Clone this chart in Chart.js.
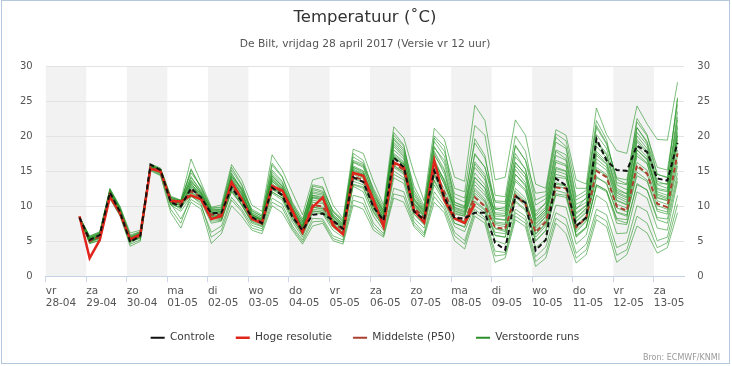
<!DOCTYPE html>
<html>
<head>
<meta charset="utf-8">
<title>Temperatuur De Bilt</title>
<script src="https://cdn.jsdelivr.net/npm/chart.js@4.4.1/dist/chart.umd.min.js"></script>
<style>
  html, body { margin: 0; padding: 0; background: #fff; }
  #wrap { position: relative; width: 732px; height: 366px; }
  #frame { position: absolute; left: 1px; top: 0; width: 729px; height: 364px; box-sizing: border-box; border: 1px solid #b4c8dd; pointer-events: none; }
</style>
</head>
<body>
<div id="wrap">
  <canvas id="plumeChart" width="732" height="366"></canvas>
  <div id="frame"></div>
</div>
<script>
// x-axis tick labels, one per day (28-04 00:00 local is hour 0)
const dayNames = ['vr', 'za', 'zo', 'ma', 'di', 'wo', 'do', 'vr', 'za', 'zo', 'ma', 'di', 'wo', 'do', 'vr', 'za'];
const dayDates = ['28-04', '29-04', '30-04', '01-05', '02-05', '03-05', '04-05', '05-05', '06-05', '07-05', '08-05', '09-05', '10-05', '11-05', '12-05', '13-05'];

// forecast times: every 6 hours from 28-04 20:00 (run vr 12 uur + 6h)
const hours = Array.from({ length: 60 }, (_, i) => 20 + 6 * i);

// values per day: 02h, 08h, 14h, 20h
const controle = [8.4, 5.2, 5.9, 12.0, 9.2, 4.9, 5.8, 16.0, 15.2, 10.6, 10.0, 12.6, 11.3, 9.0, 9.1, 12.7, 10.7, 8.5, 7.6, 12.7, 11.6, 8.5, 6.6, 8.8, 9.0, 8.0, 6.8, 14.2, 13.5, 9.9, 8.0, 17.0, 15.6, 9.3, 8.1, 15.1, 11.3, 8.3, 8.3, 9.1, 9.1, 4.8, 3.8, 11.5, 10.5, 3.7, 5.2, 14.0, 13.0, 7.2, 8.4, 19.7, 16.6, 15.2, 15.1, 18.7, 17.8, 14.0, 13.7, 19.1];
const hogeResolutie = [8.6, 2.6, 5.2, 11.4, 9.0, 5.3, 6.0, 15.4, 15.0, 10.8, 10.7, 11.6, 11.0, 8.2, 8.6, 13.5, 11.1, 8.2, 7.6, 12.9, 12.3, 9.4, 6.3, 9.9, 11.3, 7.3, 6.0, 14.8, 14.4, 10.9, 7.1, 16.3, 15.6, 9.4, 7.7, 16.6, 10.9, 8.3, 7.6, 10.4];
const middelste = [8.4, 5.0, 5.7, 11.8, 9.0, 5.2, 5.8, 15.7, 15.0, 10.7, 10.3, 12.2, 11.3, 8.8, 8.8, 13.0, 11.0, 8.4, 7.8, 13.0, 12.0, 9.0, 6.6, 10.2, 10.0, 7.8, 6.6, 14.3, 13.8, 10.3, 7.8, 16.2, 15.2, 9.8, 8.3, 15.0, 12.0, 8.6, 8.0, 11.3, 10.0, 7.0, 6.8, 11.6, 10.3, 6.3, 7.8, 12.7, 12.6, 7.0, 8.4, 15.1, 14.2, 10.0, 9.4, 15.9, 14.7, 10.4, 9.9, 17.6];

// perturbed ensemble members (a readable subset of the plume)
const run01 = [8.5, 5.8, 6.3, 12.6, 10.0, 6.2, 6.6, 16.1, 15.5, 11.5, 10.9, 16.8, 13.4, 9.9, 10.2, 16.0, 13.8, 10.2, 9.3, 17.4, 15.2, 12.0, 8.8, 13.8, 14.2, 10.2, 8.3, 18.2, 17.6, 13.6, 10.2, 21.4, 19.8, 14.8, 10.8, 21.2, 19.6, 14.2, 13.6, 24.5, 22.3, 13.8, 14.2, 22.4, 20.2, 13.2, 12.6, 21.0, 20.2, 13.8, 13.2, 24.1, 20.3, 18.0, 17.6, 24.4, 21.8, 19.6, 19.5, 27.8];
const run02 = [8.3, 4.7, 5.1, 11.1, 8.6, 4.3, 5.0, 15.1, 14.4, 9.1, 6.9, 10.6, 9.6, 4.7, 6.1, 10.1, 8.6, 6.6, 6.1, 10.1, 9.1, 6.6, 4.6, 7.2, 7.6, 5.1, 4.6, 10.2, 9.6, 6.6, 5.6, 11.2, 10.6, 7.1, 5.6, 10.6, 9.1, 5.1, 3.9, 8.6, 7.6, 2.0, 2.6, 8.1, 7.1, 1.4, 2.6, 7.6, 6.1, 1.9, 3.1, 8.1, 7.1, 2.0, 3.1, 7.2, 6.2, 3.3, 4.1, 9.1];
const run03 = [8.4, 5.4, 6.1, 12.3, 9.6, 5.6, 6.0, 15.9, 15.2, 11.2, 10.6, 14.3, 12.1, 9.6, 9.3, 14.4, 12.4, 9.3, 8.6, 15.2, 13.6, 10.2, 7.9, 12.9, 12.6, 9.3, 7.9, 16.4, 15.8, 11.6, 9.4, 19.2, 17.6, 11.9, 9.6, 18.4, 16.6, 11.3, 10.6, 19.7, 17.3, 9.6, 9.9, 17.6, 15.3, 8.8, 10.6, 17.9, 16.8, 9.6, 11.3, 19.4, 17.6, 12.3, 11.8, 20.6, 18.8, 13.2, 13.3, 22.8];
const run04 = [8.4, 4.9, 5.5, 11.6, 8.9, 4.8, 5.5, 15.4, 14.7, 10.2, 9.3, 11.4, 10.6, 7.6, 7.9, 12.2, 10.2, 7.6, 7.1, 11.9, 10.9, 7.8, 5.6, 9.1, 8.9, 6.6, 5.6, 12.9, 12.1, 8.6, 6.6, 14.1, 13.3, 8.3, 6.9, 13.1, 10.6, 7.1, 6.4, 10.1, 9.1, 5.1, 4.6, 9.6, 8.6, 4.1, 5.3, 10.2, 9.9, 4.6, 5.9, 11.6, 10.6, 6.1, 6.2, 12.1, 11.2, 6.9, 6.6, 13.6];
const run05 = [8.4, 5.2, 5.8, 12.1, 9.3, 5.0, 5.7, 15.8, 15.1, 10.6, 10.1, 13.1, 11.8, 9.2, 9.0, 13.6, 11.5, 8.9, 8.0, 14.1, 12.7, 9.5, 6.9, 11.2, 10.9, 8.2, 7.0, 15.2, 14.6, 10.9, 8.3, 17.6, 16.4, 10.6, 8.9, 16.8, 13.6, 9.6, 9.1, 14.2, 12.6, 8.3, 8.1, 14.6, 12.9, 7.6, 9.1, 15.6, 15.1, 8.4, 9.8, 17.6, 16.1, 11.6, 10.9, 18.6, 17.1, 12.1, 11.6, 20.6];
const run06 = [8.5, 5.0, 5.6, 11.9, 9.2, 5.3, 6.0, 15.6, 14.9, 10.9, 10.4, 12.6, 11.4, 8.4, 8.6, 12.6, 10.6, 8.1, 7.6, 12.4, 11.6, 8.6, 6.2, 9.6, 9.4, 7.4, 6.3, 13.6, 13.1, 9.8, 7.3, 15.6, 14.6, 9.4, 7.9, 14.3, 11.4, 8.1, 7.6, 12.3, 10.8, 6.8, 6.4, 12.6, 11.2, 6.0, 7.4, 13.4, 13.0, 6.6, 8.0, 14.3, 13.2, 9.1, 8.6, 14.9, 13.8, 9.6, 9.2, 16.4];
const run07 = [8.3, 5.5, 6.0, 12.4, 9.8, 5.7, 6.3, 15.9, 15.3, 10.9, 10.5, 15.4, 12.6, 9.4, 9.6, 15.2, 13.0, 9.1, 8.4, 14.6, 13.1, 9.8, 7.6, 12.1, 11.8, 8.8, 7.6, 17.1, 16.2, 12.1, 9.1, 20.6, 18.8, 11.2, 9.4, 19.8, 17.9, 12.6, 12.1, 21.6, 20.2, 11.6, 11.4, 20.1, 17.9, 10.9, 11.6, 19.9, 18.6, 11.4, 12.3, 21.3, 18.9, 14.1, 13.8, 22.1, 20.1, 15.6, 15.2, 24.6];
const run08 = [8.4, 4.8, 5.4, 11.5, 8.8, 5.1, 5.4, 15.3, 14.6, 10.4, 8.2, 11.0, 10.1, 6.3, 7.2, 11.3, 9.6, 7.3, 6.8, 11.2, 10.3, 7.2, 5.2, 8.3, 8.2, 5.8, 5.2, 11.6, 11.2, 7.6, 6.1, 12.6, 12.1, 7.8, 6.2, 12.1, 10.1, 6.3, 5.1, 9.6, 8.4, 3.6, 3.4, 9.1, 8.1, 2.8, 4.2, 9.1, 8.3, 3.3, 4.6, 9.6, 8.8, 4.1, 4.8, 10.1, 9.3, 5.1, 5.6, 11.6];
const run09 = [8.5, 5.6, 6.2, 12.0, 9.4, 5.5, 6.1, 15.6, 15.0, 11.3, 10.8, 13.8, 12.0, 9.0, 8.4, 13.9, 11.9, 8.7, 8.1, 13.6, 12.4, 9.4, 7.2, 11.6, 11.2, 8.4, 7.1, 14.9, 14.2, 10.6, 8.4, 16.9, 16.1, 10.3, 8.6, 16.1, 13.2, 9.9, 9.4, 15.6, 13.8, 7.8, 7.6, 13.6, 12.2, 7.1, 8.6, 14.2, 14.0, 7.8, 9.1, 16.3, 15.2, 10.8, 10.2, 17.2, 16.1, 11.2, 10.8, 19.2];
const run10 = [8.3, 5.1, 5.9, 12.2, 9.1, 5.4, 5.9, 15.7, 15.1, 10.8, 10.2, 12.8, 11.6, 8.9, 9.1, 13.3, 11.2, 8.6, 7.9, 13.3, 12.1, 9.1, 6.7, 10.6, 10.4, 7.9, 6.7, 14.6, 14.0, 10.2, 7.9, 16.4, 15.4, 9.9, 8.4, 15.4, 12.4, 8.9, 8.6, 12.6, 11.1, 7.4, 7.1, 12.2, 10.8, 6.6, 8.1, 13.2, 12.9, 7.3, 8.7, 15.6, 14.6, 10.3, 9.8, 16.3, 15.2, 10.8, 10.3, 18.1];
const run11 = [8.4, 4.9, 5.6, 11.8, 9.0, 5.2, 5.7, 15.6, 15.0, 10.5, 9.6, 13.4, 11.2, 8.6, 8.2, 14.8, 12.3, 8.3, 7.4, 12.9, 11.4, 8.8, 6.0, 9.9, 9.6, 7.6, 6.1, 15.6, 14.8, 9.6, 7.2, 18.1, 16.8, 10.9, 9.2, 17.3, 15.1, 9.3, 8.8, 13.1, 11.6, 9.6, 9.3, 16.3, 14.6, 8.2, 9.6, 16.3, 15.8, 5.6, 6.9, 13.1, 12.3, 8.3, 8.1, 19.3, 17.6, 11.6, 11.1, 21.3];
const run12 = [8.4, 5.3, 5.9, 11.6, 9.1, 5.1, 5.9, 15.5, 14.9, 10.9, 10.4, 12.1, 11.1, 8.1, 8.9, 12.9, 10.9, 8.4, 7.7, 12.6, 11.8, 9.2, 6.5, 9.9, 9.7, 8.0, 6.8, 13.9, 13.5, 10.1, 7.6, 15.8, 14.8, 9.6, 8.1, 14.6, 11.6, 8.3, 7.8, 10.8, 9.6, 6.3, 6.1, 10.8, 9.6, 5.6, 7.2, 11.8, 11.6, 6.3, 7.9, 14.1, 13.4, 9.2, 8.8, 14.4, 13.6, 9.3, 8.9, 15.8];
const run13 = [8.4, 5.7, 6.4, 12.5, 9.9, 5.9, 6.4, 16.0, 15.4, 11.3, 10.9, 14.8, 12.9, 9.8, 9.9, 14.3, 12.6, 9.6, 8.8, 16.2, 14.3, 10.6, 8.2, 12.6, 12.2, 9.4, 8.1, 16.6, 16.0, 12.6, 9.8, 19.8, 18.2, 12.9, 10.1, 20.1, 18.6, 10.6, 9.9, 17.4, 15.6, 10.8, 10.7, 18.8, 16.6, 11.9, 12.1, 20.4, 19.4, 12.6, 12.6, 22.3, 19.6, 13.4, 13.1, 21.3, 19.3, 14.6, 14.2, 25.4];
const run14 = [8.3, 4.7, 5.2, 11.3, 8.7, 4.6, 5.2, 15.2, 14.5, 9.6, 7.6, 11.6, 10.3, 5.6, 6.6, 10.9, 9.3, 6.9, 6.5, 10.6, 9.8, 6.9, 4.9, 7.8, 7.9, 5.4, 4.9, 10.9, 10.4, 7.1, 5.8, 11.8, 11.4, 7.4, 5.9, 11.4, 9.6, 5.8, 4.6, 9.1, 8.1, 2.9, 3.1, 8.6, 7.6, 2.1, 3.3, 8.3, 7.3, 2.6, 3.8, 8.8, 7.9, 3.0, 3.8, 8.6, 7.6, 4.1, 4.8, 10.3];
const run15 = [8.5, 5.4, 5.7, 12.2, 9.5, 5.5, 6.2, 15.8, 15.2, 11.0, 10.7, 13.6, 11.9, 9.3, 9.4, 13.1, 11.0, 8.8, 8.2, 13.8, 12.5, 9.6, 7.0, 11.4, 11.1, 8.6, 7.3, 15.4, 14.6, 11.1, 8.7, 17.2, 16.0, 10.4, 8.8, 16.2, 13.9, 10.2, 9.8, 16.4, 14.6, 8.6, 8.6, 15.3, 13.4, 7.9, 9.3, 15.1, 14.6, 8.9, 10.1, 17.9, 16.4, 11.9, 11.2, 18.1, 16.6, 12.4, 12.1, 20.1];
const run16 = [8.4, 5.0, 5.6, 11.7, 9.1, 5.0, 5.6, 15.6, 14.8, 10.3, 9.9, 11.9, 11.0, 8.3, 8.1, 12.4, 10.3, 7.9, 7.4, 12.1, 11.2, 8.3, 6.0, 9.3, 9.2, 7.2, 6.2, 13.2, 12.8, 9.1, 7.1, 15.1, 14.1, 8.9, 7.4, 13.8, 11.1, 7.6, 7.1, 11.6, 10.1, 5.8, 5.6, 11.3, 10.1, 5.1, 6.6, 12.3, 11.9, 5.7, 7.1, 12.9, 12.1, 7.6, 7.4, 13.1, 12.4, 8.4, 8.2, 14.8];
const run17 = [8.4, 5.3, 6.0, 12.0, 9.4, 5.4, 6.1, 15.9, 15.1, 11.0, 10.6, 13.2, 11.7, 9.1, 9.2, 14.0, 11.8, 8.6, 8.0, 14.4, 12.9, 9.7, 7.1, 11.6, 11.4, 8.5, 7.2, 15.8, 15.1, 11.3, 8.6, 18.6, 17.1, 10.9, 9.0, 17.6, 14.6, 9.8, 9.2, 14.8, 13.1, 8.9, 8.7, 15.8, 14.1, 8.1, 9.6, 16.6, 16.0, 9.1, 10.2, 18.6, 17.0, 12.1, 11.4, 19.6, 17.9, 12.6, 12.3, 21.6];
const run18 = [8.4, 5.1, 5.8, 11.9, 9.2, 5.3, 5.9, 15.7, 15.0, 10.7, 10.2, 12.4, 11.4, 8.7, 8.7, 13.4, 11.3, 8.3, 7.7, 13.6, 12.3, 9.2, 6.7, 10.9, 10.6, 7.9, 6.8, 14.8, 14.2, 10.6, 8.1, 17.1, 15.9, 10.1, 8.5, 16.3, 13.1, 9.1, 8.6, 13.6, 12.0, 7.6, 7.4, 13.9, 12.4, 6.9, 8.5, 14.6, 14.2, 7.9, 9.3, 16.8, 15.6, 10.9, 10.3, 17.6, 16.2, 11.3, 10.9, 19.6];
const run19 = [8.5, 5.5, 6.1, 12.2, 9.6, 5.6, 6.2, 15.9, 15.3, 11.1, 10.7, 14.1, 12.3, 9.5, 9.6, 14.6, 12.6, 9.0, 8.3, 14.9, 13.4, 10.0, 7.4, 12.4, 12.0, 8.9, 7.5, 16.3, 15.6, 11.8, 9.0, 19.6, 17.9, 11.6, 9.4, 18.6, 16.1, 10.6, 10.1, 17.6, 15.6, 9.8, 9.6, 17.1, 15.4, 9.3, 10.4, 18.1, 17.4, 10.3, 11.1, 20.3, 18.3, 13.1, 12.4, 21.3, 19.1, 13.6, 13.1, 23.6];
const run20 = [8.4, 5.0, 5.7, 11.7, 9.0, 5.1, 5.8, 15.6, 14.9, 10.6, 10.1, 12.0, 11.1, 8.6, 8.5, 12.8, 10.8, 8.2, 7.6, 12.8, 11.8, 8.9, 6.4, 10.1, 9.9, 7.6, 6.5, 14.1, 13.6, 10.1, 7.7, 15.9, 14.9, 9.6, 8.1, 14.8, 11.9, 8.4, 7.9, 11.9, 10.6, 6.9, 6.6, 11.9, 10.6, 6.1, 7.6, 12.9, 12.6, 6.9, 8.3, 15.3, 14.4, 9.8, 9.2, 15.6, 14.6, 10.1, 9.6, 17.3];
const run21 = [8.4, 4.9, 5.5, 11.6, 8.9, 5.0, 5.6, 15.5, 14.8, 10.4, 9.8, 11.6, 10.8, 7.9, 8.0, 12.1, 10.2, 7.8, 7.2, 12.1, 11.2, 8.2, 5.9, 9.4, 9.1, 7.0, 5.9, 13.1, 12.6, 9.3, 7.0, 14.6, 13.8, 8.9, 7.4, 13.6, 10.9, 7.6, 7.0, 10.6, 9.4, 5.9, 5.6, 10.6, 9.4, 5.0, 6.5, 11.6, 11.3, 5.9, 7.0, 13.1, 12.3, 8.1, 7.6, 13.3, 12.3, 8.1, 7.6, 14.1];
const run22 = [8.5, 5.6, 6.2, 12.4, 9.7, 5.8, 6.3, 16.0, 15.3, 11.3, 10.8, 15.2, 12.7, 9.7, 9.8, 15.6, 13.2, 9.4, 8.6, 15.9, 14.2, 10.4, 7.8, 13.1, 12.8, 9.2, 7.8, 17.6, 16.6, 12.3, 9.4, 20.2, 18.6, 12.3, 9.8, 19.3, 17.2, 11.8, 11.2, 19.1, 16.9, 10.6, 10.4, 18.6, 16.6, 10.2, 11.1, 19.2, 18.3, 10.9, 11.8, 21.6, 19.1, 13.9, 13.2, 22.6, 20.3, 14.6, 14.1, 25.6];
const run23 = [8.4, 5.2, 5.8, 11.9, 9.1, 5.2, 5.9, 15.7, 15.1, 10.8, 10.4, 12.9, 11.6, 8.9, 8.9, 13.8, 11.7, 8.5, 7.9, 13.9, 12.6, 9.4, 6.9, 11.3, 11.0, 8.1, 6.9, 15.1, 14.5, 10.8, 8.2, 17.4, 16.2, 10.4, 8.7, 16.6, 13.6, 9.4, 8.9, 14.1, 12.6, 8.2, 8.0, 14.6, 13.1, 7.4, 8.9, 15.4, 15.0, 8.3, 9.6, 17.3, 16.0, 11.3, 10.6, 18.1, 16.8, 11.8, 11.3, 20.2];
const run24 = [8.3, 5.3, 5.9, 12.1, 9.3, 5.4, 6.0, 15.8, 15.0, 10.9, 10.5, 13.6, 11.9, 9.2, 9.3, 14.2, 12.1, 8.8, 8.1, 14.3, 12.9, 9.9, 7.2, 11.9, 11.6, 8.6, 7.4, 15.6, 15.0, 11.4, 8.8, 18.9, 17.3, 11.1, 9.2, 17.9, 15.3, 10.3, 9.6, 16.1, 14.2, 9.1, 9.0, 16.3, 14.6, 8.6, 9.9, 17.3, 16.6, 9.7, 10.6, 19.1, 17.4, 12.6, 11.8, 20.1, 18.3, 13.1, 12.6, 22.4];

const runs = [run01, run02, run03, run04, run05, run06, run07, run08, run09, run10, run11, run12,
    run13, run14, run15, run16, run17, run18, run19, run20, run21, run22, run23, run24];

const yTicks = [0, 5, 10, 15, 20, 25, 30];

const FONT = 'DejaVu Sans';
const runColor = 'rgba(38, 148, 38, 0.6)';

function toPoints(values) {
    return values.map((v, i) => ({ x: hours[i], y: v }));
}

// alternating grey day bands behind the plot
const dayBands = {
    id: 'dayBands',
    beforeDraw(chart) {
        const { ctx, chartArea, scales } = chart;
        const x = scales.x;
        ctx.save();
        ctx.fillStyle = '#f2f2f2';
        dayDates.forEach((d, i) => {
            if (i % 2 !== 0) return;
            const left = Math.max(x.getPixelForValue(i * 24), chartArea.left);
            const right = Math.min(x.getPixelForValue((i + 1) * 24), chartArea.right);
            if (right > left) {
                ctx.fillRect(left, chartArea.top, right - left, chartArea.bottom - chartArea.top);
            }
        });
        ctx.restore();
    }
};

// source line bottom right
const credits = {
    id: 'credits',
    afterDraw(chart) {
        const ctx = chart.ctx;
        ctx.save();
        ctx.font = '8px "' + FONT + '"';
        ctx.fillStyle = '#999999';
        ctx.textAlign = 'right';
        ctx.textBaseline = 'middle';
        ctx.fillText('Bron: ECMWF/KNMI', chart.width - 12, chart.height - 8);
        ctx.restore();
    }
};

const datasets = [
    {
        label: 'Controle',
        data: toPoints(controle),
        borderColor: '#111111',
        borderWidth: 2,
        borderDash: [5, 3],
        pointRadius: 0,
        pointStyle: 'line'
    },
    {
        label: 'Hoge resolutie',
        data: toPoints(hogeResolutie),
        borderColor: '#e0261c',
        borderWidth: 2.5,
        pointRadius: 0,
        pointStyle: 'line'
    },
    {
        label: 'Middelste (P50)',
        data: toPoints(middelste),
        borderColor: '#ad3f2e',
        borderWidth: 2,
        borderDash: [5, 3],
        pointRadius: 0,
        pointStyle: 'line'
    }
];

runs.forEach((run, i) => {
    datasets.push({
        label: i === 0 ? 'Verstoorde runs' : 'run ' + (i + 1),
        data: toPoints(run),
        borderColor: runColor,
        borderWidth: 1,
        pointRadius: 0,
        pointStyle: 'line'
    });
});

const canvas = document.getElementById('plumeChart');

new Chart(canvas.getContext('2d'), {
    type: 'line',
    data: { datasets: datasets },
    plugins: [dayBands, credits],
    options: {
        responsive: false,
        animation: false,
        events: [],
        layout: {
            padding: { left: 7, right: 9, top: 0, bottom: 13 }
        },
        plugins: {
            title: {
                display: true,
                text: 'Temperatuur (˚C)',
                color: '#333333',
                font: { family: FONT, size: 16.5, weight: 'normal' },
                padding: { top: 7.5, bottom: 10.7 }
            },
            subtitle: {
                display: true,
                text: 'De Bilt, vrijdag 28 april 2017 (Versie vr 12 uur)',
                color: '#555555',
                font: { family: FONT, size: 10.7 },
                padding: { top: 0, bottom: 16 }
            },
            legend: {
                position: 'bottom',
                labels: {
                    usePointStyle: true,
                    pointStyleWidth: 14,
                    padding: 21,
                    color: '#3a3a3a',
                    font: { family: FONT, size: 10.6 },
                    filter: function (item) {
                        return item.datasetIndex < 4;
                    },
                    generateLabels: function (chart) {
                        const items = Chart.defaults.plugins.legend.labels.generateLabels(chart);
                        items.forEach(item => {
                            if (item.datasetIndex === 3) {
                                item.strokeStyle = '#2a8f2a';
                                item.lineWidth = 2;
                            }
                        });
                        return items;
                    }
                }
            },
            tooltip: { enabled: false }
        },
        scales: {
            x: {
                type: 'linear',
                min: 0,
                max: 378,
                afterBuildTicks: function (scale) {
                    scale.ticks = dayDates.map((d, i) => ({ value: i * 24 }));
                },
                ticks: {
                    align: 'start',
                    maxRotation: 0,
                    autoSkip: false,
                    padding: 2.5,
                    color: '#555555',
                    font: { family: FONT, size: 10.5, lineHeight: 1.15 },
                    callback: function (value) {
                        const i = Math.round(value / 24);
                        return [dayNames[i], dayDates[i]];
                    }
                },
                grid: {
                    drawOnChartArea: false,
                    drawTicks: true,
                    tickLength: 6,
                    color: '#ccd6eb'
                },
                border: { display: true, color: '#c4d2e6' }
            },
            y: {
                position: 'left',
                min: 0,
                max: 30,
                afterBuildTicks: function (scale) {
                    scale.ticks = yTicks.map(v => ({ value: v }));
                },
                ticks: {
                    padding: 13,
                    color: '#555555',
                    font: { family: FONT, size: 10 }
                },
                grid: { color: '#e3e3e3', drawTicks: false },
                border: { display: false }
            },
            y2: {
                position: 'right',
                min: 0,
                max: 30,
                afterBuildTicks: function (scale) {
                    scale.ticks = yTicks.map(v => ({ value: v }));
                },
                ticks: {
                    padding: 13,
                    color: '#555555',
                    font: { family: FONT, size: 10 }
                },
                grid: { drawOnChartArea: false, drawTicks: false },
                border: { display: false }
            }
        }
    }
});
</script>
</body>
</html>
